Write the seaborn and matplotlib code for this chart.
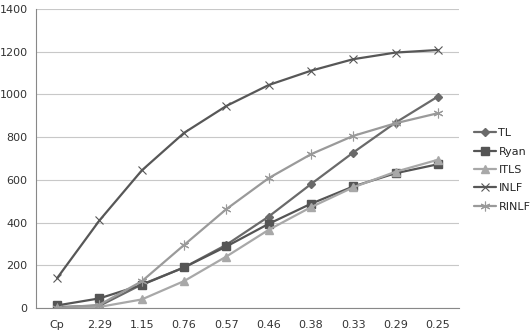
import matplotlib
matplotlib.use("Agg")
import matplotlib.pyplot as plt
import seaborn as sns
import pandas as pd
import numpy as np

categories = ["Cp", "2.29", "1.15", "0.76", "0.57", "0.46", "0.38", "0.33", "0.29", "0.25"]
TL = [5, 10, 110, 190, 296, 428, 580, 728, 868, 990]
Ryan = [12, 45, 108, 190, 288, 394, 488, 569, 631, 673]
ITLS = [0, 5, 40, 126, 241, 366, 472, 565, 638, 694]
INLF = [140, 410, 644, 820, 946, 1044, 1111, 1165, 1196, 1208]
RINLF = [0, 15, 125, 295, 463, 608, 720, 806, 865, 912]

series = {"TL": TL, "Ryan": Ryan, "ITLS": ITLS, "INLF": INLF, "RINLF": RINLF}
colors = {"TL": "#6a6a6a", "Ryan": "#555555", "ITLS": "#a8a8a8", "INLF": "#575757", "RINLF": "#9a9a9a"}
markers = {"TL": "D", "Ryan": "s", "ITLS": "^", "INLF": "x", "RINLF": (6, 2, 0)}
msizes = {"TL": 4, "Ryan": 5.5, "ITLS": 5.5, "INLF": 6, "RINLF": 7}
mew = {"TL": 1.0, "Ryan": 1.0, "ITLS": 1.0, "INLF": 0.8, "RINLF": 0.8}

sns.set_style("white")
plt.rcParams["font.family"] = ["DejaVu Sans"]

fig = plt.figure(figsize=(5.31, 3.36), dpi=100)
ax = fig.add_axes([36 / 531, 1 - 308 / 336, (459 - 36) / 531, (308 - 9) / 336])

x = np.arange(len(categories))
for name, vals in series.items():
    df = pd.DataFrame({"x": x, "y": vals})
    sns.lineplot(data=df, x="x", y="y", ax=ax, color=colors[name], marker=markers[name],
                 markersize=msizes[name], linewidth=1.6, label=name,
                 markeredgecolor=colors[name], markerfacecolor=colors[name],
                 markeredgewidth=mew[name])

ax.set_xlim(-0.5, len(categories) - 0.5)
ax.set_ylim(0, 1400)
ax.set_yticks(range(0, 1401, 200))
ax.set_xticks(x)
ax.set_xticklabels(categories)
ax.set_xticks(np.arange(-0.5, len(categories), 1), minor=True)
ax.tick_params(axis="x", which="major", length=0, labelsize=8, colors="#333333", pad=9)
ax.tick_params(axis="x", which="minor", length=4, color="#888888", direction="out")
ax.tick_params(axis="y", length=4, color="#888888", labelsize=8, colors="#333333", direction="out", pad=2)
ax.grid(axis="y", color="#c8c8c8", linewidth=0.8)
ax.set_axisbelow(True)
ax.set_xlabel("")
ax.set_ylabel("")
for s in ["top", "right"]:
    ax.spines[s].set_visible(False)
for s in ["left", "bottom"]:
    ax.spines[s].set_color("#888888")
    ax.spines[s].set_linewidth(0.8)

ax.legend(loc="center left", bbox_to_anchor=(474 / 531, 1 - 170 / 336), bbox_transform=fig.transFigure,
          frameon=False, fontsize=8, handlelength=2.0, handletextpad=0.2, labelspacing=0.75,
          borderaxespad=0, borderpad=0)

fig.savefig("out.png", dpi=100)
